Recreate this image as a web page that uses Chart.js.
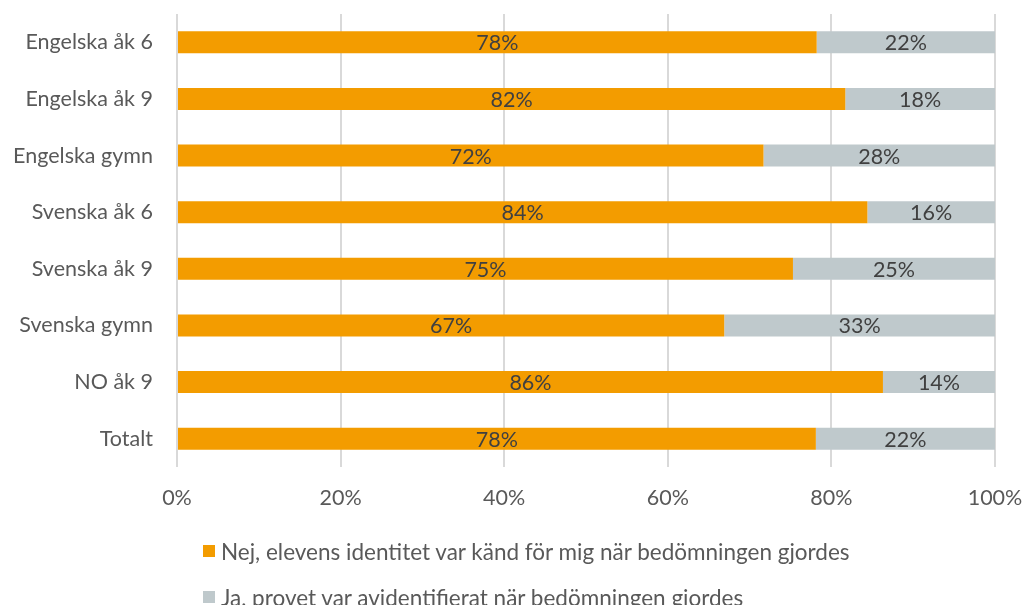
<!DOCTYPE html>
<html>
<head>
<meta charset="utf-8">
<script src="https://cdn.jsdelivr.net/npm/chart.js@4/dist/chart.umd.min.js"></script>
<style>
  html, body { margin: 0; padding: 0; background: #fff; }
  #wrap { position: relative; width: 1024px; height: 605px; overflow: hidden; }
  #legend { position: absolute; left: 203px; top: 537px; font-family: Lato, sans-serif; font-size: 22.5px; color: #595959; }
  #legend div { display: flex; align-items: center; height: 28px; margin-bottom: 18px; white-space: nowrap; }
  #legend span.box { display: inline-block; width: 12px; height: 12px; margin-right: 6px; }
</style>
</head>
<body>
<div id="wrap">
  <canvas id="chart" width="1024" height="605"></canvas>
  <div id="legend"></div>
</div>
<script>
// Categories and series (share of answers, 0-100)
const categories = ['Engelska åk 6', 'Engelska åk 9', 'Engelska gymn', 'Svenska åk 6', 'Svenska åk 9', 'Svenska gymn', 'NO åk 9', 'Totalt'];
const seriesNames = ['Nej, elevens identitet var känd för mig när bedömningen gjordes', 'Ja, provet var avidentifierat när bedömningen gjordes'];
const nejValues = [78.2, 81.7, 71.7, 84.4, 75.3, 66.9, 86.3, 78.1];
const jaValues = [21.8, 18.3, 28.3, 15.6, 24.7, 33.1, 13.7, 21.9];
const seriesColors = ['#F39C00', '#BFC9CC'];
const xTicks = [0, 20, 40, 60, 80, 100];

const fontFamily = 'Lato, sans-serif';
const fontSize = 21.5;

// draws the rounded percentage in the middle of each segment
const barLabels = {
    id: 'barLabels',
    afterDatasetsDraw(chart) {
        const ctx = chart.ctx;
        ctx.save();
        ctx.font = fontSize + 'px ' + fontFamily;
        ctx.fillStyle = '#404040';
        ctx.textAlign = 'center';
        ctx.textBaseline = 'middle';
        chart.data.datasets.forEach((ds, i) => {
            const meta = chart.getDatasetMeta(i);
            meta.data.forEach((bar, j) => {
                const x = (bar.x + bar.base) / 2;
                ctx.fillText(Math.round(ds.data[j]) + '%', x, bar.y + 1);
            });
        });
        ctx.restore();
    }
};

const chart = new Chart(document.getElementById('chart'), {
    type: 'bar',
    data: {
        labels: categories,
        datasets: [
            { label: seriesNames[0], data: nejValues, backgroundColor: seriesColors[0] },
            { label: seriesNames[1], data: jaValues, backgroundColor: seriesColors[1] }
        ]
    },
    options: {
        indexAxis: 'y',
        responsive: false,
        animation: false,
        layout: { padding: { top: 14, right: 29, bottom: 98, left: 0 } },
        datasets: { bar: { barPercentage: 0.39, categoryPercentage: 1 } },
        plugins: {
            legend: { display: false },
            tooltip: { enabled: false }
        },
        scales: {
            x: {
                stacked: true,
                min: 0,
                max: 100,
                afterBuildTicks: (scale) => { scale.ticks = xTicks.map(v => ({ value: v })); },
                afterFit: (scale) => {
                    scale.height = 40;
                    scale.paddingLeft = 0;
                    scale.paddingRight = 0;
                },
                border: { display: false },
                grid: { color: '#D9D9D9', lineWidth: 2, drawTicks: false },
                ticks: {
                    padding: 18,
                    color: '#595959',
                    font: { family: fontFamily, size: fontSize },
                    callback: (v) => v + '%'
                }
            },
            y: {
                stacked: true,
                afterFit: (scale) => {
                    scale.width = 177;
                    scale.paddingTop = 0;
                    scale.paddingBottom = 0;
                },
                border: { display: false },
                grid: { display: false, drawTicks: false },
                ticks: {
                    padding: 24,
                    color: '#595959',
                    font: { family: fontFamily, size: fontSize }
                }
            }
        }
    },
    plugins: [barLabels]
});

// legend as html, built from the datasets
const legendEl = document.getElementById('legend');
chart.data.datasets.forEach(ds => {
    const row = document.createElement('div');
    const box = document.createElement('span');
    box.className = 'box';
    box.style.background = ds.backgroundColor;
    row.appendChild(box);
    row.appendChild(document.createTextNode(ds.label));
    legendEl.appendChild(row);
});
</script>
</body>
</html>
